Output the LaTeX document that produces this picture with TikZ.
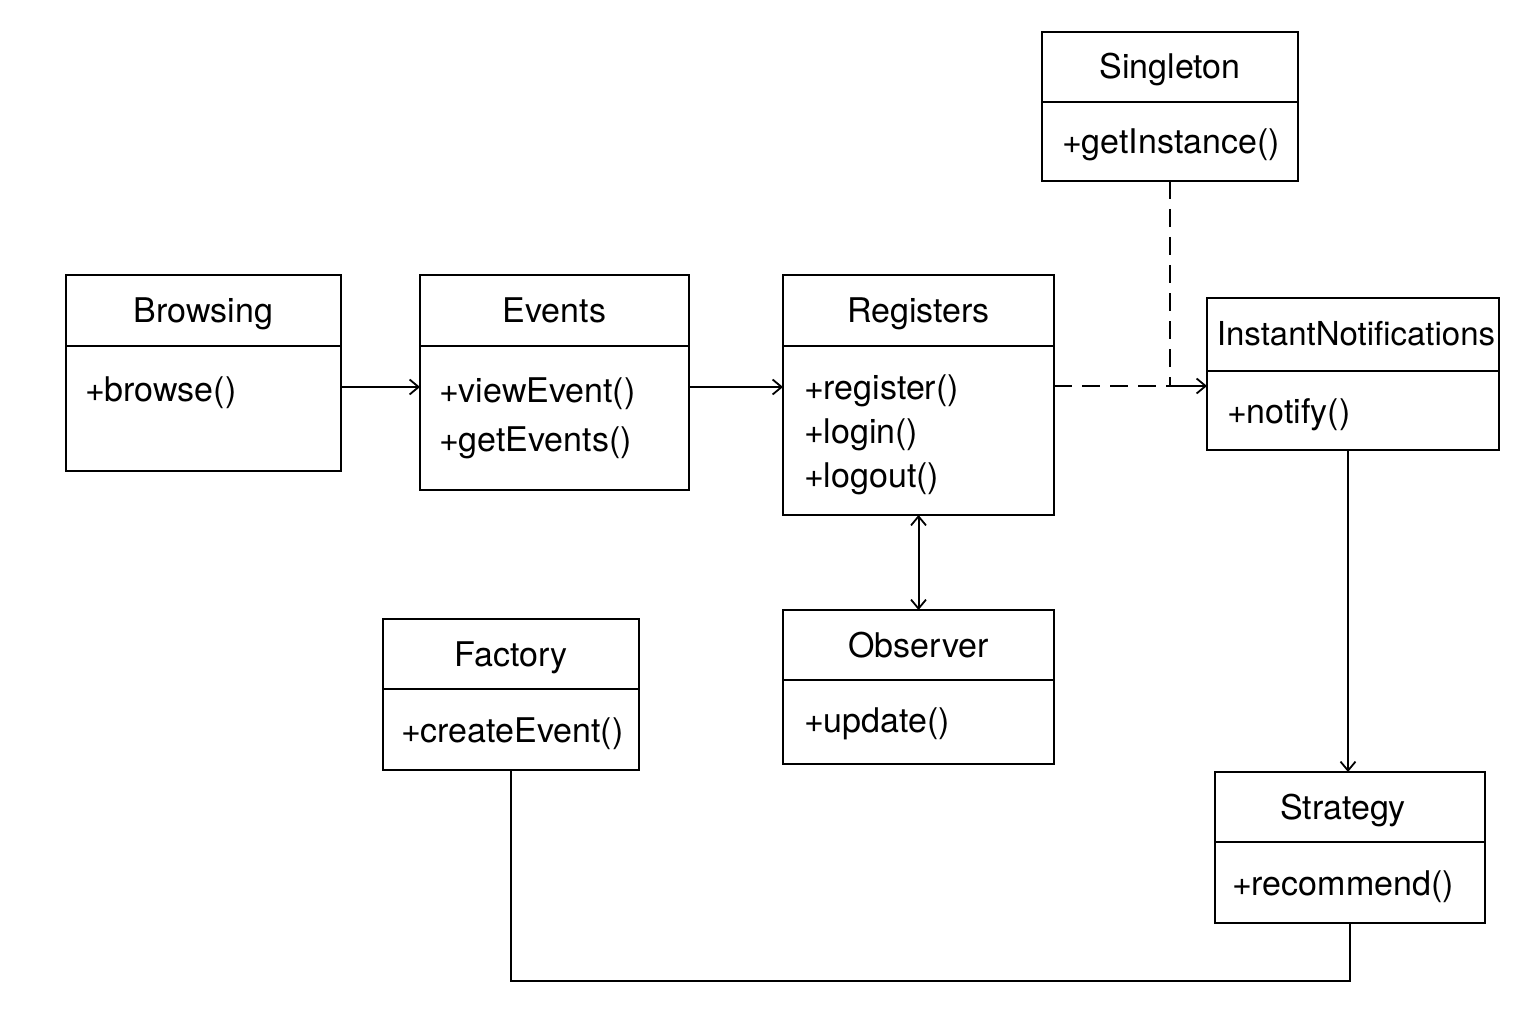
\documentclass[tikz,border=0pt]{standalone}
\usepackage{fontspec}
\setmainfont{TeX Gyre Heros}
\usetikzlibrary{arrows.meta,calc}
\begin{document}
\begin{tikzpicture}[x=1pt,y=-1pt, line width=2pt,
  cls/.style={draw, rectangle, inner sep=0pt, outer sep=0pt, anchor=north west},
  ttl/.style={font=\fontsize{34}{40}\selectfont, anchor=base, inner sep=0pt},
  mth/.style={font=\fontsize{34}{40}\selectfont, anchor=base west, inner sep=0pt},
  arr/.style={-{Straight Barb[length=9pt,width=15pt,line width=1.8pt]}},
  biarr/.style={{Straight Barb[length=9pt,width=15pt,line width=1.8pt]}-{Straight Barb[length=9pt,width=15pt,line width=1.8pt]}},
  dsh/.style={dash pattern=on 18pt off 10pt}]
\useasboundingbox[fill=white] (0,0) rectangle (1536,1024);

% Browsing
\node[cls, minimum width=275, minimum height=196] (browsing) at (66,275) {};
\draw (browsing.west |- 0,346) -- (browsing.east |- 0,346);
\node[ttl] (browsingT) at (browsing.north |- 0,322) {Browsing};
\node[mth] (browsingM1) at (84,401) {+browse()};

% Events
\node[cls, minimum width=269, minimum height=215] (events) at (420,275) {};
\draw (events.west |- 0,346) -- (events.east |- 0,346);
\node[ttl] (eventsT) at (events.north |- 0,322) {Events};
\node[mth] (eventsM1) at (438,402) {+viewEvent()};
\node[mth] (eventsM2) at (438,451) {+getEvents()};

% Registers
\node[cls, minimum width=271, minimum height=240] (registers) at (783,275) {};
\draw (registers.west |- 0,346) -- (registers.east |- 0,346);
\node[ttl] (registersT) at (registers.north |- 0,322) {Registers};
\node[mth] (registersM1) at (803,399) {+register()};
\node[mth] (registersM2) at (803,443) {+login()};
\node[mth] (registersM3) at (803,487) {+logout()};

% Singleton
\node[cls, minimum width=256, minimum height=149] (singleton) at (1042,32) {};
\draw (singleton.west |- 0,102) -- (singleton.east |- 0,102);
\node[ttl] (singletonT) at (singleton.north |- 0,79) {Singleton};
\node[mth] (singletonM1) at (1061,154) {+getInstance()};

% InstantNotifications
\node[cls, minimum width=292, minimum height=152] (instant) at (1207,298) {};
\draw (instant.west |- 0,371) -- (instant.east |- 0,371);
\node[ttl, font=\fontsize{33}{39}\selectfont] (instantT) at ([xshift=3pt]instant.north |- 0,345) {InstantNotifications};
\node[mth] (instantM1) at (1226,423) {+notify()};

% Factory
\node[cls, minimum width=256, minimum height=151] (factory) at (383,619) {};
\draw (factory.west |- 0,689) -- (factory.east |- 0,689);
\node[ttl] (factoryT) at (factory.north |- 0,666) {Factory};
\node[mth] (factoryM1) at (400,742) {+createEvent()};

% Observer
\node[cls, minimum width=271, minimum height=154] (observer) at (783,610) {};
\draw (observer.west |- 0,680) -- (observer.east |- 0,680);
\node[ttl] (observerT) at (observer.north |- 0,657) {Observer};
\node[mth] (observerM1) at (803,732) {+update()};

% Strategy
\node[cls, minimum width=270, minimum height=151] (strategy) at (1215,772) {};
\draw (strategy.west |- 0,842) -- (strategy.east |- 0,842);
\node[ttl] (strategyT) at ([xshift=-7pt]strategy.north |- 0,819) {Strategy};
\node[mth] (strategyM1) at (1231,895) {+recommend()};

% Connectors
\draw[arr] (browsing.east |- 0,387) -- (events.west |- 0,387);
\draw[arr] (events.east |- 0,387) -- (registers.west |- 0,387);
\draw[dsh] (singleton.south) -- (singleton.south |- 0,386) coordinate (junction);
\draw[dsh] (registers.east |- junction) -- (junction);
\draw[arr] (junction) -- (instant.west |- junction);
\draw[biarr] (registers.south) -- (observer.north);
\draw[arr] (instant.south -| 1348,0) -- (strategy.north -| 1348,0);
\draw (factory.south) -- (factory.south |- 0,981) -| (strategy.south);
\end{tikzpicture}
\end{document}
